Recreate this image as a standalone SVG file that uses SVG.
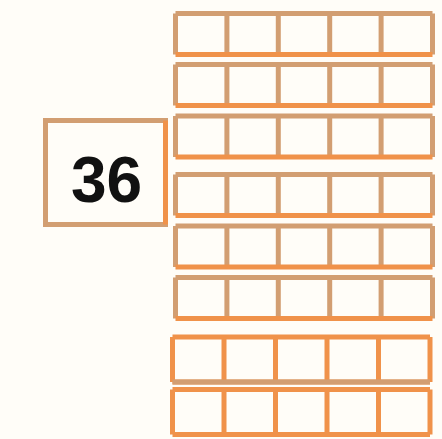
<svg xmlns="http://www.w3.org/2000/svg" width="442" height="439" viewBox="0 0 442 439">
<style>
.tan{fill:none;stroke:#d29e72;stroke-width:5}
.org{fill:none;stroke:#f0924a;stroke-width:5}
.lbl{font-family:"Liberation Sans",Arial,sans-serif;font-weight:bold;font-size:64px;fill:#111;text-anchor:middle}
</style>
<rect width="442" height="439" fill="#fffdf8"/>
<defs>
<g id="rowA">
<path class="tan" d="M0,0H257M0,0V41M51.4,0V41M102.8,0V41M154.2,0V41M205.6,0V41M257,0V41"/>
<path class="org" d="M0,41H257"/>
</g>
<g id="rowB">
<path class="org" d="M0,0H257.5M0,0V45M51.5,0V45M103,0V45M154.5,0V45M206,0V45M257.5,0V45M0,45H257.5"/>
</g>
</defs>
<g id="box36">
<rect x="45.5" y="120.5" width="120" height="104" class="tan"/>
<path class="org" d="M165.5,120.5V224.5"/>
<text x="106.5" y="202" class="lbl">36</text>
</g>
<g id="row1"><use href="#rowA" x="175.5" y="13.5"/></g>
<g id="row2"><use href="#rowA" x="175.5" y="64.5"/></g>
<g id="row3"><use href="#rowA" x="175.5" y="116"/></g>
<g id="row4"><use href="#rowA" x="175.5" y="174.5"/></g>
<g id="row5"><use href="#rowA" x="175.5" y="226"/></g>
<g id="row6"><use href="#rowA" x="175.5" y="277.5"/></g>
<g id="row7"><use href="#rowB" x="172.5" y="337"/><path class="tan" d="M172.5,382H430"/></g>
<g id="row8"><use href="#rowB" x="172.5" y="389.5"/></g>
</svg>
